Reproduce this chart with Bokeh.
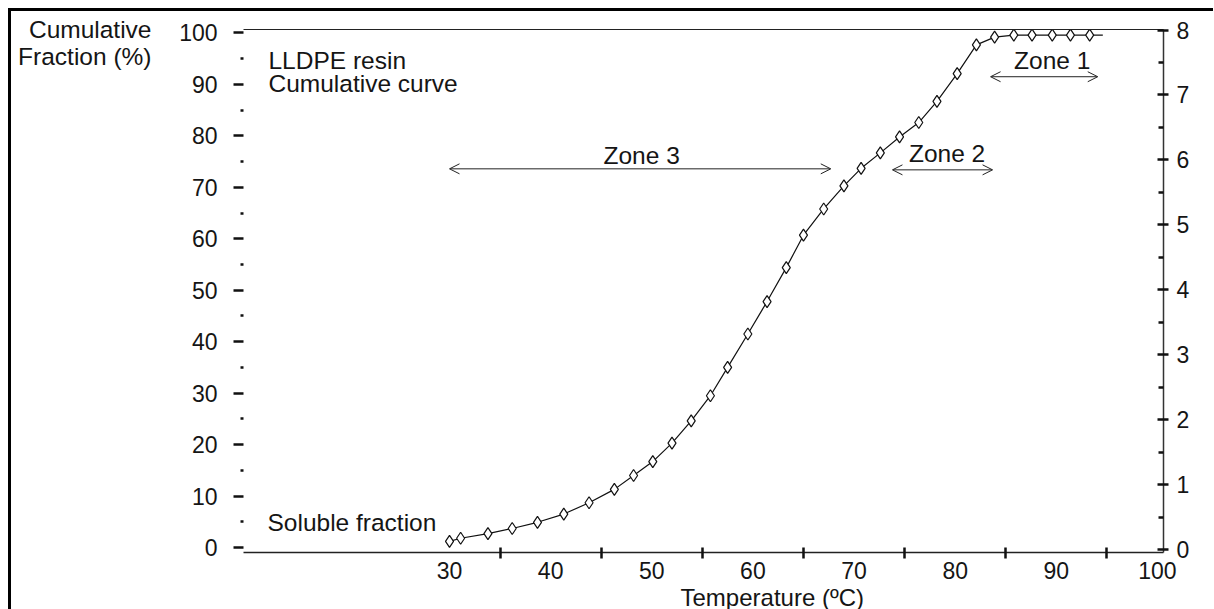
from bokeh.plotting import figure
from bokeh.models import Range1d, LinearAxis, FixedTicker, Label, Arrow, OpenHead, ColumnDataSource, Title
from bokeh.embed import file_html
from bokeh.resources import INLINE

# ---- data ----
temperature = [30.0, 31.1, 33.8, 36.2, 38.7, 41.3, 43.8, 46.3, 48.2, 50.1, 52.0,
               53.9, 55.8, 57.5, 59.5, 61.4, 63.3, 65.0, 67.0, 69.0, 70.7, 72.6,
               74.5, 76.4, 78.2, 80.2, 82.1, 83.9, 85.8, 87.6, 89.6, 91.4, 93.3]
cumulative = [1.2, 1.8, 2.7, 3.7, 4.9, 6.5, 8.7, 11.3, 14.0, 16.7, 20.3,
              24.6, 29.5, 35.0, 41.5, 47.8, 54.4, 60.7, 65.8, 70.3, 73.7, 76.7,
              79.8, 82.6, 86.7, 92.1, 97.7, 99.2, 99.6, 99.6, 99.6, 99.6, 99.6]
# the drawn line runs a little past the last marker
line_temperature = temperature + [94.6]
line_cumulative = cumulative + [99.6]

x_ticks = [30, 40, 50, 60, 70, 80, 90, 100]
x_minor = [35, 45, 55, 65, 75, 85, 95]
left_ticks = [0, 10, 20, 30, 40, 50, 60, 70, 80, 90, 100]
left_minor = [5, 15, 25, 35, 45, 55, 65, 75, 85, 95]
right_ticks = [0, 1, 2, 3, 4, 5, 6, 7, 8]
right_minor = [0.5, 1.5, 2.5, 3.5, 4.5, 5.5, 6.5, 7.5]

zones = ["Zone 3", "Zone 2", "Zone 1"]
zone_start = [30.0, 73.8, 83.5]
zone_end = [67.7, 83.7, 94.1]

FONT = "Liberation Sans"
FS = "23px"
FS_NOTE = "24.5px"
INK = "#151515"

p = figure(frame_width=920, frame_height=523,
           x_range=Range1d(9.63, 100.6), y_range=Range1d(-0.97, 100.68),
           output_backend="svg", toolbar_location=None,
           min_border_left=232, min_border_right=50,
           min_border_top=18, min_border_bottom=54)
p.styles = {"margin-left": "8px", "margin-top": "8px",
            "border-left": "3px solid black", "border-top": "3px solid black"}
p.grid.visible = False
p.outline_line_color = None
p.background_fill_color = "white"
p.border_fill_color = "white"

p.extra_y_ranges = {"right": Range1d(-0.046, 8.008)}

# bottom axis
xa = p.xaxis[0]
xa.ticker = FixedTicker(ticks=x_ticks, minor_ticks=x_minor)
xa.axis_line_color = "#222"
xa.axis_line_width = 1.5
xa.major_tick_line_color = None
xa.major_tick_out = 0
xa.major_tick_in = 0
xa.minor_tick_line_color = "#111"
xa.minor_tick_line_width = 2.5
xa.minor_tick_in = 5
xa.minor_tick_out = 6
xa.major_label_standoff = 3
xa.major_label_text_font = FONT
xa.major_label_text_font_size = FS
xa.major_label_text_color = INK

# x title, placed below the axis and shifted right as in the original
p.add_layout(Title(text="Temperature (ºC)", align="left", offset=437, standoff=0,
                   text_font=FONT, text_font_size="24px", text_font_style="normal",
                   text_color=INK), "below")

# left axis (no axis line)
ya = p.yaxis[0]
ya.ticker = FixedTicker(ticks=left_ticks, minor_ticks=left_minor)
ya.axis_line_color = None
ya.major_tick_line_color = "#111"
ya.major_tick_line_width = 2.5
ya.major_tick_out = 10
ya.major_tick_in = 0
ya.minor_tick_line_color = "#111"
ya.minor_tick_line_width = 2.5
ya.minor_tick_out = 3
ya.minor_tick_in = 0
ya.major_label_standoff = 16
ya.major_label_text_font = FONT
ya.major_label_text_font_size = FS
ya.major_label_text_color = INK

# second left axis: carries the horizontal y title at the top
# (a blank first line drops the two text lines below the top edge)
yt = LinearAxis(ticker=FixedTicker(ticks=[]),
                axis_label="\u00a0\nCumulative\nFraction (%)")
yt.axis_line_color = None
yt.major_tick_line_color = None
yt.minor_tick_line_color = None
yt.major_tick_out = 0
yt.major_tick_in = 0
yt.major_label_standoff = 0
yt.major_label_text_font_size = "0px"
yt.axis_label_standoff = 25
yt.axis_label_text_font = FONT
yt.axis_label_text_font_size = FS_NOTE
yt.axis_label_text_font_style = "normal"
yt.axis_label_text_color = INK
yt.axis_label_text_align = "left"
yt.axis_label_text_line_height = 1.0
try:
    yt.axis_label_orientation = "horizontal"
except Exception:
    pass
try:
    yt.axis_label_align = "end"
except Exception:
    pass
p.add_layout(yt, "left")

# right axis
ra = LinearAxis(y_range_name="right",
                ticker=FixedTicker(ticks=right_ticks, minor_ticks=right_minor))
ra.axis_line_color = "#333"
ra.axis_line_width = 1.5
ra.major_tick_line_color = "#111"
ra.major_tick_line_width = 2.5
ra.major_tick_in = 6
ra.major_tick_out = 5
ra.minor_tick_line_color = "#111"
ra.minor_tick_line_width = 2.5
ra.minor_tick_in = 5
ra.minor_tick_out = 0
ra.major_label_standoff = 8
ra.major_label_text_font = FONT
ra.major_label_text_font_size = FS
ra.major_label_text_color = INK
p.add_layout(ra, "right")

# top frame line
ta = LinearAxis(ticker=FixedTicker(ticks=[]))
ta.axis_line_color = "#222"
ta.axis_line_width = 1
ta.major_tick_line_color = None
ta.minor_tick_line_color = None
ta.major_label_text_font_size = "0px"
p.add_layout(ta, "above")

# curve
p.line(line_temperature, line_cumulative, line_color="#111", line_width=1.2)
src = ColumnDataSource(dict(t=temperature, c=cumulative))
p.scatter("t", "c", source=src, marker="diamond", size=12,
          fill_color="white", line_color="#111", line_width=1.2)

# texts inside the frame
def lab(x, y, text, align="left"):
    p.add_layout(Label(x=x, y=y, text=text, text_font=FONT, text_font_size=FS_NOTE,
                       text_color=INK, text_baseline="middle", text_align=align))

lab(12.1, 94.6, "LLDPE resin")
lab(12.1, 90.1, "Cumulative curve")
lab(12.0, 4.9, "Soluble fraction")

zone_label_x = [49.0, 79.2, 89.6]
zone_label_y = [76.1, 76.5, 94.6]
zone_arrow_y = [73.6, 73.4, 91.5]
for name, xs, xe, lx, ly, ay in zip(zones, zone_start, zone_end,
                                     zone_label_x, zone_label_y, zone_arrow_y):
    lab(lx, ly, name, "center")
    p.add_layout(Arrow(x_start=xs, y_start=ay, x_end=xe, y_end=ay,
                       start=OpenHead(size=10, line_width=1, line_color="#222"),
                       end=OpenHead(size=10, line_width=1, line_color="#222"),
                       line_width=1, line_color="#222"))

open("out.html", "w").write(file_html(p, INLINE))
